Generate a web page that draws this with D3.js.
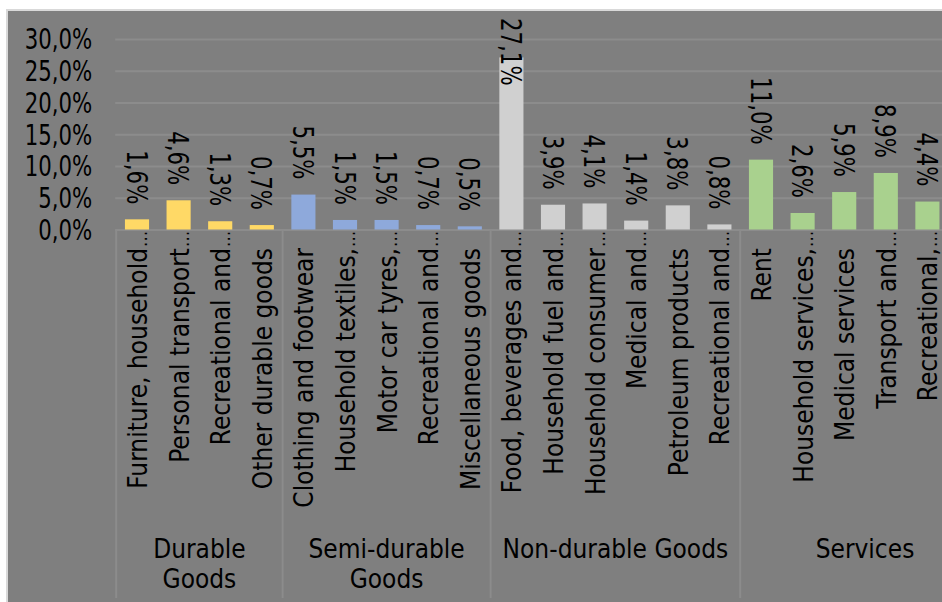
<!DOCTYPE html>
<html>
<head>
<meta charset="utf-8">
<script src="https://cdn.jsdelivr.net/npm/d3@7"></script>
<style>
  html, body { margin: 0; padding: 0; background: #ffffff; width: 942px; height: 602px; overflow: hidden; }
  svg { display: block; }
  .num { font-family: "DejaVu Sans Condensed", "DejaVu Sans", sans-serif; font-stretch: condensed; fill: #000; }
  .txt { font-family: "DejaVu Sans Condensed", "DejaVu Sans", sans-serif; font-stretch: condensed; fill: #000; }
</style>
</head>
<body>
<svg id="chart" width="942" height="602"></svg>
<script>
// Category labels as shown on the axis (long ones end in an ellipsis)
const categories = [
  "Furniture, household…", "Personal transport…", "Recreational and…", "Other durable goods",
  "Clothing and footwear", "Household textiles,…", "Motor car tyres,…", "Recreational and…", "Miscellaneous goods",
  "Food, beverages and…", "Household fuel and…", "Household consumer…", "Medical and…", "Petroleum products", "Recreational and…",
  "Rent", "Household services,…", "Medical services", "Transport and…", "Recreational,…"
];
// Group index of each category
const groupOf = [0,0,0,0, 1,1,1,1,1, 2,2,2,2,2,2, 3,3,3,3,3];
// Share of total, in percent
const shares = [
  1.6, 4.6, 1.3, 0.7,
  5.5, 1.5, 1.5, 0.7, 0.5,
  27.1, 3.9, 4.1, 1.4, 3.8, 0.8,
  11.0, 2.6, 5.9, 8.9, 4.4
];
// Group captions (one entry per line) and the number of axis slots each group spans;
// the services block continues past the right edge, only its first five items are in view
const groupLines = [["Durable", "Goods"], ["Semi-durable", "Goods"], ["Non-durable Goods"], ["Services"]];
const groupSlots = [4, 5, 6, 6];
const groupColors = ["#FFD966", "#8EA9DB", "#D0D0D0", "#A9D18E"];
const yTicks = [0, 5, 10, 15, 20, 25, 30];

// Numbers use a tall, narrow setting of the condensed face
const numSize = 27.5;
const numSqueeze = 0.86;

const svg = d3.select("#chart");

// Chart area
svg.append("rect")
  .attr("x", 7).attr("y", 10)
  .attr("width", 1100).attr("height", 700)
  .attr("fill", "#7f7f7f")
  .attr("stroke", "#d9d9d9").attr("stroke-width", 2);

const plotLeft = 116.2;
const step = 41.6;
const totalSlots = d3.sum(groupSlots);
const groupStart = groupSlots.map((s, i) => d3.sum(groupSlots.slice(0, i)));

// Slot of each category along the axis
const slotOf = categories.map((c, i) => {
  const g = groupOf[i];
  const within = groupOf.slice(0, i).filter(v => v === g).length;
  return groupStart[g] + within;
});

const x = d3.scaleBand()
  .domain(d3.range(totalSlots))
  .range([plotLeft, plotLeft + totalSlots * step])
  .paddingInner(0.42)
  .paddingOuter(0.21);

const y = d3.scaleLinear().domain([0, 30]).range([229.5, 39]);

const fmt = v => v.toFixed(1).replace(".", ",") + "%";

// Value axis with gridlines
const yAxis = svg.append("g")
  .attr("transform", `translate(${plotLeft - 1},0)`)
  .call(d3.axisLeft(y)
    .tickValues(yTicks)
    .tickFormat(fmt)
    .tickSizeInner(-(totalSlots * step + 10))
    .tickSizeOuter(0)
    .tickPadding(23));
yAxis.select(".domain").remove();
yAxis.selectAll(".tick line").attr("stroke", "#8c8c8c").attr("stroke-width", 2);
yAxis.selectAll(".tick text")
  .attr("class", "num")
  .attr("font-size", numSize)
  .attr("x", 0)
  .attr("dy", "0.36em")
  .attr("transform", `translate(-23,0) scale(${numSqueeze},1)`);

// Category axis frame: group separators
const sepX = groupStart.map(s => plotLeft + s * step).concat([plotLeft + totalSlots * step]);
svg.append("g").selectAll("line")
  .data(sepX)
  .join("line")
  .attr("x1", d => d).attr("x2", d => d)
  .attr("y1", y(0)).attr("y2", 598)
  .attr("stroke", "#8c8c8c").attr("stroke-width", 2);

// Bars
svg.append("g").selectAll("rect")
  .data(shares)
  .join("rect")
  .attr("x", (d, i) => x(slotOf[i]))
  .attr("y", d => y(d))
  .attr("width", x.bandwidth())
  .attr("height", d => y(0) - y(d))
  .attr("fill", (d, i) => groupColors[groupOf[i]]);

// Value labels, rotated, above each bar and kept inside the chart area
const labels = svg.append("g").selectAll("text")
  .data(shares)
  .join("text")
  .attr("class", "num")
  .attr("font-size", numSize)
  .attr("text-anchor", "end")
  .text(d => fmt(d));
labels.each(function (d, i) {
  const len = this.getComputedTextLength() * numSqueeze;
  const cx = x(slotOf[i]) + x.bandwidth() / 2;
  const yEnd = Math.max(y(d) - 15, 18 + len);
  d3.select(this).attr("transform",
    `translate(${cx - 10.5},${yEnd}) rotate(90) scale(${numSqueeze},1)`);
});

// Category labels, rotated
const catG = svg.append("g");
categories.forEach((c, i) => {
  const cx = x(slotOf[i]) + x.bandwidth() / 2;
  const cut = c.endsWith("…");
  const body = cut ? c.slice(0, -1) : c;
  catG.append("text")
    .attr("class", "txt")
    .attr("font-size", 26)
    .attr("text-anchor", "end")
    .attr("transform", `translate(${cx + 10},248) rotate(-90)`)
    .text(body);
  if (cut) {
    catG.append("text")
      .attr("class", "txt")
      .attr("font-size", 18)
      .attr("text-anchor", "start")
      .attr("transform", `translate(${cx + 10},247) rotate(-90)`)
      .text("…");
  }
});

// Group captions
const grpG = svg.append("g");
groupLines.forEach((lines, g) => {
  const cx = plotLeft + (groupStart[g] + groupSlots[g] / 2) * step;
  const t = grpG.append("text")
    .attr("class", "txt")
    .attr("font-size", 26)
    .attr("text-anchor", "middle");
  lines.forEach((ln, k) => {
    t.append("tspan").attr("x", cx).attr("y", 558 + k * 30).text(ln);
  });
});
</script>
</body>
</html>
